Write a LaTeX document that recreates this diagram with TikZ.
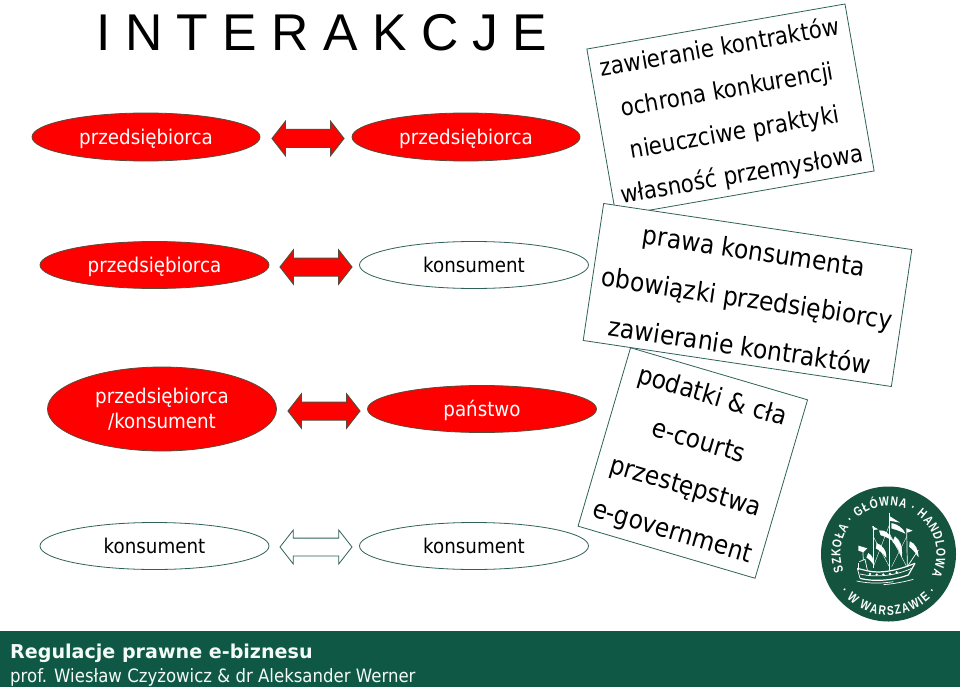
\documentclass[tikz,border=0pt]{standalone}
\usepackage{fontspec}
\setmainfont{Liberation Sans}
\newfontfamily\tah[FakeStretch=0.9]{DejaVu Sans}
\newfontfamily\tahb[FakeStretch=0.88]{DejaVu Sans}
\newfontfamily\verd{DejaVu Sans}
\newfontfamily\logof[FakeStretch=0.8]{Liberation Sans}
\usetikzlibrary{shapes.geometric,shapes.arrows,decorations.text}
\definecolor{edgegreen}{HTML}{2F6158}
\definecolor{edgered}{HTML}{5A4A3A}
\definecolor{barcol}{HTML}{0F5846}
\definecolor{logocol}{HTML}{14543F}
\definecolor{barfg}{HTML}{F4FAF6}
\tikzset{
  ell/.style={ellipse,inner sep=0pt,outer sep=0pt,minimum width=229pt,minimum height=47pt,line width=.8pt,align=center,
    font=\tah\fontsize{20.3}{25}\selectfont,text depth=0.5pt},
  oneline/.style={text height=16pt},
  redell/.style={ell,draw=edgered,fill=red,text=white},
  whiteell/.style={ell,draw=edgegreen,fill=white,text=black},
  arr/.style={double arrow,double arrow head extend=8pt,double arrow tip angle=104,double arrow head indent=0pt,
    text height=17pt,text depth=0pt,text width=40pt,minimum height=72pt,inner sep=0pt,outer sep=0pt,line width=1pt},
  redarr/.style={arr,draw=edgered,fill=red},
  whitearr/.style={arr,draw=edgegreen,fill=white,line width=.8pt},
  rbox/.style={rectangle,draw=edgegreen,fill=white,line width=.8pt,inner sep=0pt},
  rtext/.style={align=center,inner sep=0pt,text=black},
  ship/.style={draw=white,line width=.7pt},
  sail/.style={fill=white,draw=white,line width=.3pt}
}
\begin{document}
\begin{tikzpicture}[x=1pt,y=-1pt]
\useasboundingbox (0,0) rectangle (960,687);
\fill[white] (0,0) rectangle (960,687);
\node[inner sep=0pt,font=\fontsize{51.7}{52}\selectfont] (title) at (322,33) {I N T E R A K C J E};

\node[redell,oneline,minimum width=228pt,minimum height=48pt] (a1) at (146,137) {przedsiębiorca};
\node[redell,oneline,minimum width=228pt,minimum height=48pt] (b1) at (466,137) {przedsiębiorca};
\node[redarr] (c1) at (308,138.5) {};
\node[redell,oneline] (a2) at (154.5,265) {przedsiębiorca};
\node[whiteell,oneline] (b2) at (474,265) {konsument};
\node[redarr] (c2) at (316,267) {};
\node[redell,minimum height=84pt] (a3) at (162,409) {przedsiębiorca\\/konsument};
\node[redell,oneline] (b3) at (482,409) {państwo};
\node[redarr] (c3) at (324,411) {};
\node[whiteell,oneline] (a4) at (154.5,546) {konsument};
\node[whiteell,oneline] (b4) at (474,546) {konsument};
\node[whitearr] (c4) at (316,547) {};

\node[rbox,minimum width=262pt,minimum height=169.5pt,rotate=9.9] (box1) at (730.5,110) {};
\node[rtext,rotate=9.9,font=\tahb\fontsize{24.3}{43}\selectfont] (t1) at (731,112)
  {zawieranie kontraktów\\ochrona konkurencji\\nieuczciwe praktyki\\własność przemysłowa};

\node[rbox,minimum width=184.5pt,minimum height=186pt,rotate=-16.4] (box3) at (692.8,463) {};
\node[rtext,rotate=-16.4,font=\tah\fontsize{25.9}{47}\selectfont] (t3) at (692,465)
  {podatki \& cła\\e-courts\\przestępstwa\\e-government};

\node[rbox,minimum width=311.6pt,minimum height=138.5pt,rotate=-8.5] (box2) at (747.5,295) {};
\node[rtext,rotate=-8.5,font=\tah\fontsize{26}{48}\selectfont] (t2) at (747,298)
  {prawa konsumenta\\obowiązki przedsiębiorcy\\zawieranie kontraktów};

\fill[barcol] (0,630.5) rectangle (960,687);
\node[anchor=base west,inner sep=0pt,text=barfg,font=\verd\bfseries\fontsize{19.1}{20}\selectfont] (foot1) at (10,658) {Regulacje prawne e-biznesu};
\node[anchor=base west,inner sep=0pt,text=barfg,font=\tah\fontsize{18.4}{20}\selectfont] (foot2) at (10,682) {prof. Wiesław Czyżowicz \& dr Aleksander Werner};

% logo
\fill[logocol] (888.5,554) circle (67.5);
\begin{scope}[shift={(888.5,554)},x=1pt,y=1pt]
  \path[decorate,decoration={text along path,text align=fit to path,
     text={|\logof\bfseries\fontsize{13}{14}\selectfont\color{white}|SZKOŁA · GŁÓWNA · HANDLOWA}}]
     (201:48) arc[start angle=201,end angle=-26,radius=48];
  \path[decorate,decoration={text along path,text align=fit to path,
     text={|\logof\bfseries\fontsize{13}{14}\selectfont\color{white}|· W WARSZAWIE ·}}]
     (218:61) arc[start angle=218,end angle=322,radius=61];
\end{scope}
\begin{scope}[shift={(850,500)},x=.3333pt,y=-.3333pt]
  % hull
  \draw[ship,line width=1.2pt] (22,205) -- (50,212) .. controls (90,222) and (140,212) .. (195,190);
  \draw[ship,line width=1.2pt] (30,235) .. controls (80,248) and (140,238) .. (175,225) -- (195,190);
  \draw[ship] (30,222) .. controls (80,234) and (140,226) .. (185,205);
  \draw[ship] (22,205) -- (30,235);
  \draw[ship] (28,185) -- (45,178) -- (52,210);
  \draw[ship] (25,190) -- (25,210);
  % masts
  \draw[ship] (70,78) -- (70,205);
  \draw[ship] (118,38) -- (118,210);
  \draw[ship] (170,85) -- (172,200);
  \draw[ship] (38,145) -- (40,180);
  % flags
  \fill[white] (25,137) -- (52,145) -- (40,157) -- (25,152) -- cycle;
  \fill[white] (66,78) -- (85,88) -- (70,90) -- cycle;
  \fill[white] (118,48) -- (150,68) -- (118,62) -- cycle;
  \fill[white] (170,85) -- (188,92) -- (172,98) -- cycle;
  % sails
  \fill[sail] (88,92) .. controls (105,90) and (118,100) .. (128,122) .. controls (115,112) and (100,108) .. (92,105) -- cycle;
  \fill[sail] (80,130) .. controls (95,135) and (110,150) .. (108,172) .. controls (100,160) and (88,150) .. (78,145) -- cycle;
  \fill[sail] (135,110) .. controls (150,120) and (158,140) .. (155,170) .. controls (148,150) and (138,135) .. (128,125) -- cycle;
  \fill[sail] (125,70) .. controls (140,72) and (160,85) .. (165,100) .. controls (150,92) and (135,88) .. (125,85) -- cycle;
  \fill[sail] (55,160) .. controls (65,165) and (72,178) .. (70,192) .. controls (62,182) and (55,175) .. (50,172) -- cycle;
  \fill[sail] (180,125) .. controls (195,130) and (205,150) .. (205,170) .. controls (195,155) and (185,145) .. (178,140) -- cycle;
  % rigging
  \draw[ship,line width=.4pt] (70,110) -- (118,200) (118,75) -- (70,200) (118,100) -- (170,200) (170,110) -- (125,200);
  \draw[ship] (205,150) -- (172,200);
  % windows
  \foreach \wx/\wy in {60/222,80/224,100/224,120/222,140/217}{\fill[white] (\wx,\wy) circle (4);}
  % waves
  \draw[ship] (20,243) .. controls (60,252) and (100,250) .. (130,245) (100,254) .. controls (130,252) and (165,245) .. (190,238);
\end{scope}
\end{tikzpicture}
\end{document}
